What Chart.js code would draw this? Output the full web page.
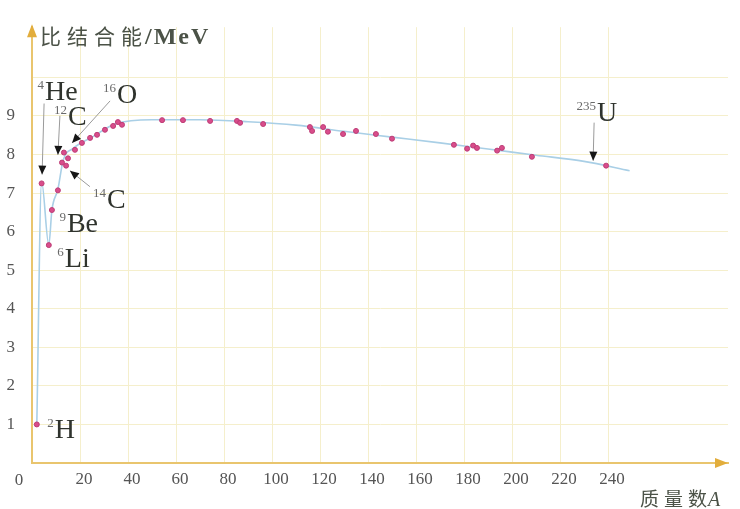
<!DOCTYPE html>
<html>
<head>
<meta charset="utf-8">
<script src="https://cdn.jsdelivr.net/npm/chart.js@4.4.0/dist/chart.umd.min.js"></script>
<style>
  body { margin: 0; background: #fff; }
  canvas { display: block; }
</style>
</head>
<body>
<canvas id="bindingChart" width="740" height="509"></canvas>
<script>
// mass number A / binding energy per nucleon (MeV)
const dotA = [2, 4, 7.0, 8.3, 10.8, 12.5, 13.3, 14.2, 15, 17.9, 20.8, 24.2, 27.1, 30.4, 33.8, 35.8, 37.5,
              54.2, 62.9, 74.2, 85.4, 86.7, 96.3, 115.8, 116.7, 121.3, 123.3, 129.6, 135, 143.3, 150,
              175.8, 181.3, 183.8, 185.4, 193.8, 195.8, 208.3, 239.2];
const dotE = [1.0, 7.25, 5.65, 6.56, 7.07, 7.79, 8.05, 7.71, 7.9, 8.12, 8.3, 8.43, 8.51, 8.64, 8.74, 8.84, 8.77,
              8.89, 8.89, 8.87, 8.87, 8.82, 8.79, 8.71, 8.61, 8.71, 8.59, 8.53, 8.61, 8.53, 8.41,
              8.25, 8.15, 8.23, 8.17, 8.1, 8.17, 7.94, 7.71];

// the smooth light blue curve through them
const curveA = [2, 4, 7.0, 8.3, 10.8, 13, 17, 25, 35, 50, 70, 90, 110, 130, 150, 170, 190, 210, 230, 249];
const curveE = [1.0, 7.3, 5.65, 6.56, 7.1, 7.85, 8.15, 8.45, 8.8, 8.9, 8.9, 8.85, 8.76, 8.6, 8.45, 8.3, 8.14, 7.98, 7.82, 7.58];

// labelled nuclides
const nucSymbol = ['He', 'C', 'O', 'C', 'Be', 'Li', 'H', 'U'];
const nucMass = ['4', '12', '16', '14', '9', '6', '2', '235'];
const nucA = [4.2, 10.8, 16.7, 15.8, 8.3, 7.0, 2, 233.8];
const nucE = [7.48, 7.99, 8.3, 7.58, 6.56, 5.65, 1.0, 7.84];

const xTickMax = 240;
const yTickMax = 9;

// where each label sits relative to its nuclide (px); lead = start of the pointer line
const labelLayout = [
    { dx: 3, dy: -75, lead: [2, -71] },
    { dx: 10, dy: -30, lead: [2, -39] },
    { dx: 45, dy: -40, lead: [38, -42] },
    { dx: 37, dy: 37, lead: [20, 16] },
    { dx: 15, dy: 22, lead: null },
    { dx: 16, dy: 22, lead: null },
    { dx: 18, dy: 14, lead: null },
    { dx: 4, dy: -40, lead: [1, -38] }
];

const axisColor = '#e9c56e';
const gridColor = '#f5efcc';
const serif = '"Liberation Serif", "DejaVu Serif", serif';
const cjk = '"Noto Sans CJK SC", sans-serif';

function toPoints(xs, ys) {
    return xs.map((x, i) => ({ x: x, y: ys[i] }));
}

// axis arrows, titles, nuclide labels
const decor = {
    id: 'decor',
    afterDraw(chart) {
        const ctx = chart.ctx;
        const area = chart.chartArea;
        const xs = chart.scales.x;
        const ys = chart.scales.y;
        ctx.save();

        // arrow heads on the axes
        ctx.fillStyle = '#e2ad3c';
        ctx.beginPath();
        ctx.moveTo(area.right, area.bottom);
        ctx.lineTo(area.right - 13, area.bottom - 5);
        ctx.lineTo(area.right - 13, area.bottom + 5);
        ctx.closePath();
        ctx.fill();
        ctx.beginPath();
        ctx.moveTo(area.left, area.top - 3);
        ctx.lineTo(area.left - 5, area.top + 10);
        ctx.lineTo(area.left + 5, area.top + 10);
        ctx.closePath();
        ctx.fill();

        // origin label
        ctx.fillStyle = '#555';
        ctx.font = '17px ' + serif;
        ctx.textAlign = 'center';
        ctx.textBaseline = 'alphabetic';
        ctx.fillText('0', area.left - 13, area.bottom + 22);

        // y title
        ctx.textAlign = 'left';
        ctx.fillStyle = '#4b5247';
        ctx.font = '21px ' + cjk;
        ctx.letterSpacing = '6px';
        ctx.fillText('比结合能', area.left + 8, 44);
        let w = ctx.measureText('比结合能').width;
        ctx.letterSpacing = '2px';
        ctx.font = 'bold 24px ' + serif;
        ctx.fillText('/MeV', area.left + 8 + w - 3, 44);

        // x title
        ctx.font = '19px ' + cjk;
        ctx.letterSpacing = '5px';
        ctx.fillText('质量数', 640, 506);
        w = ctx.measureText('质量数').width;
        ctx.letterSpacing = '0px';
        ctx.font = 'italic 20px ' + serif;
        ctx.fillText('A', 640 + w - 4, 506);

        // nuclide labels with pointer lines
        nucSymbol.forEach((sym, i) => {
            const px = xs.getPixelForValue(nucA[i]);
            const py = ys.getPixelForValue(nucE[i]);
            const lay = labelLayout[i];
            if (lay.lead) {
                const sx = px + lay.lead[0];
                const sy = py + lay.lead[1];
                ctx.strokeStyle = '#9a9a9a';
                ctx.lineWidth = 1;
                ctx.beginPath();
                ctx.moveTo(sx, sy);
                ctx.lineTo(px, py);
                ctx.stroke();
                const ang = Math.atan2(py - sy, px - sx);
                const c = Math.cos(ang), s = Math.sin(ang);
                ctx.fillStyle = '#161616';
                ctx.beginPath();
                ctx.moveTo(px, py);
                ctx.lineTo(px - 9 * c + 4 * s, py - 9 * s - 4 * c);
                ctx.lineTo(px - 9 * c - 4 * s, py - 9 * s + 4 * c);
                ctx.closePath();
                ctx.fill();
            }
            const tx = px + lay.dx;
            const ty = py + lay.dy;
            ctx.fillStyle = '#2f332d';
            ctx.font = '28px ' + serif;
            ctx.textAlign = 'left';
            ctx.fillText(sym, tx, ty);
            ctx.fillStyle = '#6a6a6a';
            ctx.font = '13px ' + serif;
            ctx.textAlign = 'right';
            ctx.fillText(nucMass[i], tx - 1, ty - 11);
        });
        ctx.restore();
    }
};

const ctx = document.getElementById('bindingChart').getContext('2d');
const bindingChart = new Chart(ctx, {
    type: 'scatter',
    data: {
        datasets: [{
            label: 'curve',
            data: toPoints(curveA, curveE),
            showLine: true,
            borderColor: '#a9cfe6',
            borderWidth: 1.6,
            pointRadius: 0,
            cubicInterpolationMode: 'monotone',
            order: 2
        }, {
            label: 'nuclides',
            data: toPoints(dotA, dotE),
            showLine: false,
            pointRadius: 2.5,
            backgroundColor: '#d94d8b',
            borderColor: '#bd3d76',
            borderWidth: 1,
            order: 1
        }]
    },
    options: {
        responsive: false,
        animation: false,
        devicePixelRatio: 1,
        layout: {
            padding: { top: 23, right: 12, left: 0, bottom: 0 }
        },
        plugins: {
            legend: { display: false },
            tooltip: { enabled: false }
        },
        scales: {
            x: {
                type: 'linear',
                min: 0,
                max: 290,
                afterFit(scale) { scale.height = 46; },
                border: { color: axisColor, width: 2 },
                grid: {
                    drawTicks: false,
                    color: (c) => (c.tick && c.tick.value > 0 && c.tick.value <= xTickMax) ? gridColor : 'rgba(0,0,0,0)'
                },
                ticks: {
                    stepSize: 20,
                    autoSkip: false,
                    maxRotation: 0,
                    padding: 6,
                    labelOffset: 4,
                    color: '#555',
                    font: { family: serif, size: 17 },
                    callback: (v) => (v > 0 && v <= xTickMax) ? v : ''
                }
            },
            y: {
                type: 'linear',
                min: 0,
                max: 11.3,
                afterFit(scale) { scale.width = 32; },
                border: { color: axisColor, width: 2 },
                grid: {
                    drawTicks: false,
                    color: (c) => (c.tick && c.tick.value > 0 && c.tick.value <= 10) ? gridColor : 'rgba(0,0,0,0)'
                },
                ticks: {
                    stepSize: 1,
                    autoSkip: false,
                    padding: 17,
                    color: '#555',
                    font: { family: serif, size: 17 },
                    callback: (v) => (v > 0 && v <= yTickMax) ? v : ''
                }
            }
        }
    },
    plugins: [decor]
});
</script>
</body>
</html>
